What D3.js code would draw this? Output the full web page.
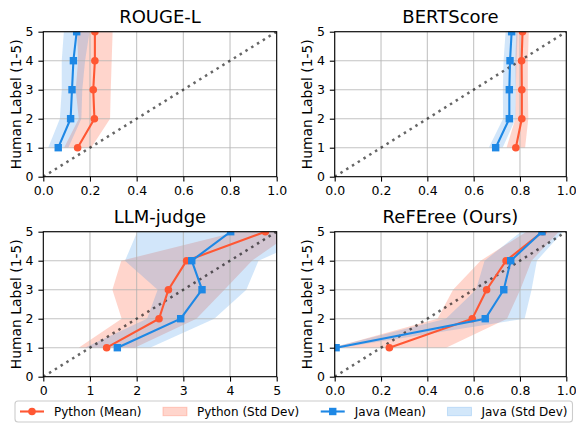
<!DOCTYPE html>
<html>
<head>
<meta charset="utf-8">
<script src="https://cdn.jsdelivr.net/npm/d3@7"></script>
<style>
  body { margin: 0; background: #fff; }
  svg { font-family: "DejaVu Sans", sans-serif; }
</style>
</head>
<body>
<svg id="chart" width="576" height="423"></svg>
<script>
// human label levels (y axis)
const levels = [1, 2, 3, 4, 5]

// ROUGE-L
const rougePyMean = [0.147, 0.219, 0.214, 0.221, 0.221]
const rougePyStd = [0.058, 0.067, 0.075, 0.072, 0.076]
const rougeJavaMean = [0.064, 0.117, 0.123, 0.129, 0.143]
const rougeJavaStd = [0.043, 0.046, 0.044, 0.050, 0.055]

// BERTScore
const bertPyMean = [0.782, 0.808, 0.808, 0.807, 0.811]
const bertPyStd = [0.040, 0.028, 0.026, 0.027, 0.027]
const bertJavaMean = [0.695, 0.754, 0.754, 0.757, 0.764]
const bertJavaStd = [0.030, 0.027, 0.028, 0.028, 0.026]

// LLM-judge (score 0-5)
const llmPyMean = [1.357, 2.479, 2.680, 3.070, 4.757]
const llmPyStd = [0.60, 0.80, 1.20, 1.40, 0.60]
const llmJavaMean = [1.586, 2.943, 3.400, 3.180, 4.014]
const llmJavaStd = [0.70, 0.72, 0.95, 1.43, 2.00]

// ReFEree (Ours)
const refPyMean = [0.236, 0.594, 0.656, 0.740, 0.898]
const refPyStd = [0.245, 0.150, 0.145, 0.110, 0.070]
const refJavaMean = [0.006, 0.650, 0.730, 0.760, 0.895]
const refJavaStd = [0.020, 0.170, 0.120, 0.113, 0.090]

const unitTicks = [0, 0.2, 0.4, 0.6, 0.8, 1.0]
const scoreTicks = [0, 1, 2, 3, 4, 5]
const yTicks = [0, 1, 2, 3, 4, 5]

const py_color = "#FF5733"
const java_color = "#1E88E5"

const panels = [
  {title: "ROUGE-L", xmax: 1, ticks: unitTicks, fmt: d3.format(".1f"), x0: 43.3, x1: 276.7, top: 31.7,
   py: [rougePyMean, rougePyStd], java: [rougeJavaMean, rougeJavaStd]},
  {title: "BERTScore", xmax: 1, ticks: unitTicks, fmt: d3.format(".1f"), x0: 334.7, x1: 566.3, top: 31.7,
   py: [bertPyMean, bertPyStd], java: [bertJavaMean, bertJavaStd]},
  {title: "LLM-judge", xmax: 5, ticks: scoreTicks, fmt: d3.format("d"), x0: 43.3, x1: 276.7, top: 231.7,
   py: [llmPyMean, llmPyStd], java: [llmJavaMean, llmJavaStd]},
  {title: "ReFEree (Ours)", xmax: 1, ticks: unitTicks, fmt: d3.format(".1f"), x0: 334.7, x1: 566.3, top: 231.7,
   py: [refPyMean, refPyStd], java: [refJavaMean, refJavaStd]}
]
const axes_height = 145

const svg = d3.select("#chart")
const defs = svg.append("defs")

const tick_len = 4.9
const tick_font = "12.5px"

panels.forEach((p, i) => {
  const x = d3.scaleLinear().domain([0, p.xmax]).range([p.x0, p.x1])
  const y = d3.scaleLinear().domain([0, 5]).range([p.top + axes_height, p.top])
  const g = svg.append("g")

  defs.append("clipPath").attr("id", "clip" + i)
    .append("rect")
    .attr("x", p.x0).attr("y", p.top)
    .attr("width", p.x1 - p.x0).attr("height", axes_height)

  const plot = g.append("g").attr("clip-path", `url(#clip${i})`)

  const rows = (s) => levels.map((l, k) => ({level: l, m: s[0][k], s: s[1][k]}))
  const band = d3.area()
    .y(d => y(d.level))
    .x0(d => x(d.m - d.s))
    .x1(d => x(d.m + d.s))

  // std bands
  plot.append("path").datum(rows(p.py))
    .attr("d", band).attr("fill", py_color).attr("fill-opacity", 0.25)
  plot.append("path").datum(rows(p.java))
    .attr("d", band).attr("fill", java_color).attr("fill-opacity", 0.2)

  // grid
  plot.selectAll(".vgrid").data(p.ticks).enter().append("line")
    .attr("x1", d => x(d)).attr("x2", d => x(d))
    .attr("y1", p.top).attr("y2", p.top + axes_height)
    .style("stroke", "#b0b0b0").style("stroke-width", 1.1).style("opacity", 0.75)
  plot.selectAll(".hgrid").data(yTicks).enter().append("line")
    .attr("y1", d => y(d)).attr("y2", d => y(d))
    .attr("x1", p.x0).attr("x2", p.x1)
    .style("stroke", "#b0b0b0").style("stroke-width", 1.1).style("opacity", 0.75)

  // diagonal reference
  plot.append("line")
    .attr("x1", x(0)).attr("y1", y(0))
    .attr("x2", x(p.xmax)).attr("y2", y(5))
    .style("stroke", "#000").style("opacity", 0.6)
    .style("stroke-width", 2.5)
    .style("stroke-dasharray", "2.5 4.3")

  const line = d3.line().x(d => x(d.m)).y(d => y(d.level))

  // python
  plot.append("path").datum(rows(p.py))
    .attr("d", line).attr("fill", "none")
    .attr("stroke", py_color).attr("stroke-width", 2.1)
  plot.selectAll(".pydot").data(rows(p.py)).enter().append("circle")
    .attr("cx", d => x(d.m)).attr("cy", d => y(d.level))
    .attr("r", 3.8).attr("fill", py_color)

  // java
  plot.append("path").datum(rows(p.java))
    .attr("d", line).attr("fill", "none")
    .attr("stroke", java_color).attr("stroke-width", 2.1)
  plot.selectAll(".javasq").data(rows(p.java)).enter().append("rect")
    .attr("x", d => x(d.m) - 3.7).attr("y", d => y(d.level) - 3.7)
    .attr("width", 7.4).attr("height", 7.4).attr("fill", java_color)

  // axes
  const xAxis = g.append("g")
    .attr("transform", `translate(0,${p.top + axes_height})`)
    .call(d3.axisBottom(x).tickValues(p.ticks).tickFormat(p.fmt).tickSize(tick_len).tickPadding(4.9))
  const yAxis = g.append("g")
    .attr("transform", `translate(${p.x0},0)`)
    .call(d3.axisLeft(y).tickValues(yTicks).tickFormat(d3.format("d")).tickSize(tick_len).tickPadding(4.9))
  ;[xAxis, yAxis].forEach(a => {
    a.select(".domain").remove()
    a.selectAll("line").attr("stroke", "#000").attr("stroke-width", 1.1)
    a.selectAll("text").attr("font-size", tick_font).attr("fill", "#000")
      .attr("font-family", "DejaVu Sans")
  })

  // spines
  g.append("rect")
    .attr("x", p.x0).attr("y", p.top)
    .attr("width", p.x1 - p.x0).attr("height", axes_height)
    .attr("fill", "none").attr("stroke", "#000").attr("stroke-width", 1.1)

  // title
  g.append("text")
    .attr("x", (p.x0 + p.x1) / 2).attr("y", p.top - 8.4)
    .attr("text-anchor", "middle")
    .attr("font-size", "18px")
    .text(p.title)

  // y label
  g.append("text")
    .attr("transform", `translate(${p.x0 - 27.3},${p.top + axes_height / 2}) rotate(-90)`)
    .attr("text-anchor", "middle")
    .attr("dy", "0.35em")
    .attr("font-size", "13.9px")
    .text("Human Label (1-5)")
})

// legend
const legend_items = [
  {label: "Python (Mean)", type: "line", color: py_color, marker: "circle"},
  {label: "Python (Std Dev)", type: "patch", color: py_color, alpha: 0.25},
  {label: "Java (Mean)", type: "line", color: java_color, marker: "square"},
  {label: "Java (Std Dev)", type: "patch", color: java_color, alpha: 0.2}
]
const fs = 12
const handle_len = 24
const text_pad = 10
const col_space = 21.5
const legend = svg.append("g")
const box = legend.append("rect")
const leg_left = 15
const leg_top = 401
const leg_h = 21
const cy = leg_top + leg_h / 2
let cx = leg_left + 5
legend_items.forEach(item => {
  const h = legend.append("g")
  if (item.type == "line") {
    h.append("line").attr("x1", cx).attr("x2", cx + handle_len)
      .attr("y1", cy).attr("y2", cy)
      .attr("stroke", item.color).attr("stroke-width", 2.1)
    if (item.marker == "circle") {
      h.append("circle").attr("cx", cx + handle_len / 2).attr("cy", cy).attr("r", 3.8).attr("fill", item.color)
    } else {
      h.append("rect").attr("x", cx + handle_len / 2 - 3.7).attr("y", cy - 3.7)
        .attr("width", 7.4).attr("height", 7.4).attr("fill", item.color)
    }
  } else {
    h.append("rect").attr("x", cx).attr("y", cy - 0.35 * fs)
      .attr("width", handle_len).attr("height", 0.7 * fs)
      .attr("fill", item.color).attr("fill-opacity", item.alpha)
      .attr("stroke", item.color).attr("stroke-opacity", item.alpha)
  }
  const t = legend.append("text")
    .attr("x", cx + handle_len + text_pad).attr("y", cy)
    .attr("dy", "0.35em")
    .attr("font-size", fs + "px")
    .text(item.label)
  const tw = t.node().getComputedTextLength()
  cx = cx + handle_len + text_pad + tw + col_space
})
const leg_right = cx - col_space + 5
box.attr("x", leg_left).attr("y", leg_top)
  .attr("width", leg_right - leg_left).attr("height", leg_h)
  .attr("rx", 3).attr("fill", "#fff").attr("fill-opacity", 0.8)
  .attr("stroke", "#cccccc").attr("stroke-width", 1.1)
</script>
</body>
</html>
